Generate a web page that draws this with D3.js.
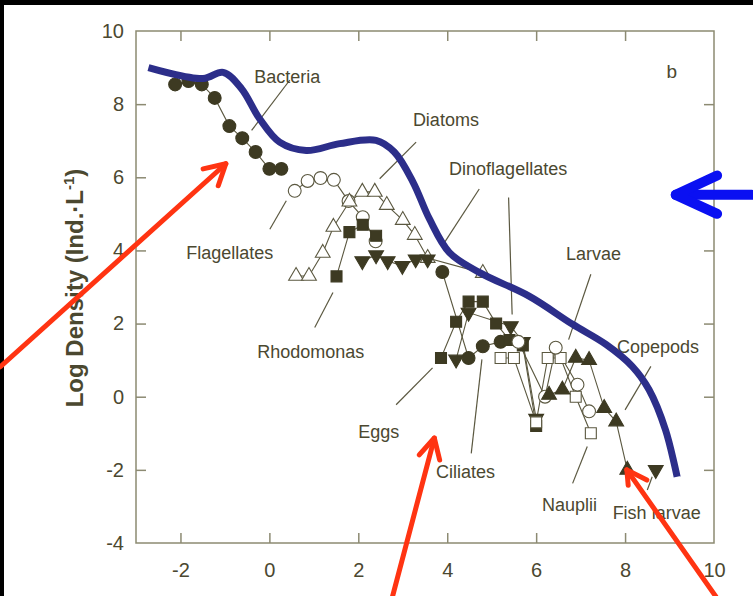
<!DOCTYPE html>
<html>
<head>
<meta charset="utf-8">
<script src="https://cdn.jsdelivr.net/npm/d3@7"></script>
<style>
  html, body { margin: 0; padding: 0; background: #fff; }
  svg { display: block; }
</style>
</head>
<body>
<svg id="chart" width="753" height="596"></svg>
<script>
// Size spectrum: log density against log size class
const xTicks = [-2, 0, 2, 4, 6, 8, 10];
const yTicks = [-4, -2, 0, 2, 4, 6, 8, 10];

// Observed groups, [log size, log density]
const bacteria = [[-2.12,8.54],[-1.82,8.63],[-1.52,8.54],[-1.23,8.17],[-0.90,7.40],[-0.61,7.07],[-0.31,6.69],[0.0,6.23],[0.27,6.23]];
const flagellates = [[0.57,5.63],[0.86,5.90],[1.15,5.98],[1.45,5.93],[1.78,5.35],[2.10,4.91],[2.39,4.25]];
const diatoms = [[0.60,3.30],[0.89,3.30],[1.20,3.93],[1.44,4.64],[1.80,5.33],[2.09,5.60],[2.37,5.60],[2.64,5.24],[3.00,4.83],[3.27,4.42],[3.56,3.79],[4.80,3.38]];
const rhodomonas = [[1.51,3.29],[1.80,4.50],[2.10,4.70],[2.40,4.40]];
const dinoflagellates = [[2.09,3.71],[2.40,3.87],[2.66,3.71],[2.99,3.58],[3.29,3.76],[3.56,3.76]];
const ciliates = [[3.89,3.41],[4.48,1.06],[4.80,1.38],[5.20,1.50]];
const eggs = [[3.86,1.06],[4.20,2.05],[4.48,2.60],[4.80,2.60],[5.10,2.00],[5.40,1.55],[5.70,1.40],[6.00,-0.80]];
const dinoLate = [[4.20,1.02],[4.48,2.30],[5.43,1.93],[5.70,1.50],[6.00,-0.60]];
const larvae = [[5.20,1.06],[5.50,1.06],[6.00,-0.70],[6.26,1.06],[6.55,1.06],[6.89,0.0],[7.23,-1.0]];
const nauplii = [[5.60,1.50],[6.20,0.0],[6.44,1.34],[6.93,0.33],[7.19,-0.40]];
const copepods = [[6.29,0.05],[6.59,0.19],[6.89,1.06],[7.19,1.00],[7.53,-0.31],[7.80,-0.68],[8.05,-2.0]];
const fishLarvae = [[8.69,-2.0]];

// Hand-drawn envelope over the spectrum
const envelope = [[-2.72,9.0],[-1.49,8.70],[-1.04,8.87],[-0.63,8.43],[-0.22,7.60],[0.23,6.96],[0.83,6.73],[1.58,6.92],[2.40,7.01],[2.81,6.69],[3.23,5.87],[3.60,4.86],[4.05,3.94],[4.72,3.40],[5.84,2.75],[6.82,1.98],[7.57,1.43],[8.16,0.83],[8.54,0.19],[8.91,-0.91],[9.17,-2.19]];

// Pointer arrows: shaft then two head strokes
const redArrows = [
  { shaft: [[-6.05,0.82],[-0.98,6.37]], head: [[-1.49,6.23],[-0.98,6.37],[-1.15,5.77]] },
  { shaft: [[2.77,-5.46],[3.71,-1.13]], head: [[3.37,-1.59],[3.71,-1.13],[3.83,-1.73]] },
  { shaft: [[10.04,-5.46],[8.04,-2.0]], head: [[8.07,-2.42],[8.04,-2.0],[8.49,-2.28]] }
];
const blueArrow = { shaft: [[10.85,5.52],[9.14,5.52]], head: [[10.07,6.05],[9.14,5.52],[10.07,5.0]] };

// Group labels with their leader lines
const labelNames = ["Bacteria","Diatoms","Dinoflagellates","Flagellates","Rhodomonas","Larvae","Copepods","Eggs","Ciliates","Nauplii","Fish larvae"];
const labelPos = [[0.40,8.76],[3.97,7.58],[5.37,6.23],[-0.89,3.95],[0.93,1.24],[7.29,3.90],[8.74,1.37],[2.46,-0.96],[4.41,-2.06],[6.75,-2.96],[8.71,-3.18]];
const leaders = [
  [[0.46,8.66],[-0.40,7.28]],
  [[3.30,6.96],[2.48,5.96]],
  [[4.72,5.68],[3.94,4.22]],
  [[5.38,5.45],[5.46,2.25]],
  [[0.38,5.36],[0.01,4.58]],
  [[1.43,2.85],[1.02,1.89]],
  [[7.23,3.35],[6.73,1.56]],
  [[8.58,0.83],[8.00,-0.36]],
  [[3.67,0.79],[2.85,-0.22]],
  [[4.78,1.02],[4.54,-1.55]],
  [[7.15,-1.36],[6.82,-2.37]],
  [[8.61,-2.19],[8.50,-2.55]]
];

const ink = "#3d3a22";
const textInk = "#4b4830";
const frameInk = "#8c8a72";
const fontFamily = "'Liberation Sans', Arial, sans-serif";

const svg = d3.select("#chart");

// page edges
svg.append("rect").attr("x",0).attr("y",0).attr("width",753).attr("height",596).attr("fill","#fff");
svg.append("rect").attr("x",0).attr("y",0).attr("width",753).attr("height",5).attr("fill","#000");
svg.append("rect").attr("x",0).attr("y",0).attr("width",4).attr("height",596).attr("fill","#000");

const x = d3.scaleLinear().domain([-3, 10]).range([136, 714]);
const y = d3.scaleLinear().domain([-4, 10]).range([543, 31]);

// frame
svg.append("rect")
  .attr("x", x(-3)).attr("y", y(10))
  .attr("width", x(10) - x(-3)).attr("height", y(-4) - y(10))
  .attr("fill", "none").attr("stroke", frameInk).attr("stroke-width", 1.5);

const tickLen = 10;
const plain = d => String(d);
const gx = svg.append("g").attr("transform", `translate(0,${y(-4)})`)
  .call(d3.axisBottom(x).tickValues(xTicks).tickSize(-tickLen).tickPadding(20).tickFormat(plain));
const gxTop = svg.append("g").attr("transform", `translate(0,${y(10)})`)
  .call(d3.axisTop(x).tickValues(xTicks.filter(v => v < 10)).tickSize(-tickLen).tickFormat(""));
const gy = svg.append("g").attr("transform", `translate(${x(-3)},0)`)
  .call(d3.axisLeft(y).tickValues(yTicks).tickSize(-tickLen).tickPadding(12).tickFormat(plain));
const gyRight = svg.append("g").attr("transform", `translate(${x(10)},0)`)
  .call(d3.axisRight(y).tickValues(yTicks.filter(v => v > -4 && v < 10)).tickSize(-tickLen).tickFormat(""));

[gx, gxTop, gy, gyRight].forEach(g => {
  g.select(".domain").remove();
  g.selectAll(".tick line").attr("stroke", frameInk).attr("stroke-width", 1.5);
  g.selectAll(".tick text").attr("fill", textInk)
    .style("font-family", fontFamily).style("font-size", "20px");
});
gx.selectAll(".tick line").filter(d => d === 10).remove();
gy.selectAll(".tick line").filter(d => d === -4 || d === 10).remove();

// axis title
svg.append("text")
  .attr("transform", "translate(83,288) rotate(-90)")
  .attr("text-anchor", "middle")
  .attr("fill", textInk)
  .style("font-family", fontFamily)
  .style("font-size", "24px").style("font-weight", "bold")
  .html("Log Density (Ind.·L<tspan dy='-9' font-size='15'>-1</tspan><tspan dy='9'>)</tspan>");

// panel letter
svg.append("text").attr("x", x(9.05)).attr("y", y(8.89)).attr("dy", "0.35em")
  .attr("text-anchor", "middle").attr("fill", textInk)
  .style("font-family", fontFamily).style("font-size", "19px").text("b");

const line = d3.line().x(d => x(d[0])).y(d => y(d[1]));

// leader lines
svg.append("g").selectAll("path").data(leaders).join("path")
  .attr("d", line).attr("fill", "none").attr("stroke", "#5b5840").attr("stroke-width", 1.2);

// labels
svg.append("g").selectAll("text").data(labelNames).join("text")
  .attr("x", (d, i) => x(labelPos[i][0]))
  .attr("y", (d, i) => y(labelPos[i][1]))
  .attr("dy", "0.35em").attr("text-anchor", "middle")
  .attr("fill", textInk)
  .style("font-family", fontFamily).style("font-size", "18px")
  .text(d => d);

// series
const series = [
  { data: bacteria, shape: d3.symbolCircle, filled: true, rot: 0, size: 130 },
  { data: flagellates, shape: d3.symbolCircle, filled: false, rot: 0, size: 130 },
  { data: diatoms, shape: d3.symbolTriangle, filled: false, rot: 0, size: 95 },
  { data: rhodomonas, shape: d3.symbolSquare, filled: true, rot: 0, size: 120 },
  { data: dinoflagellates, shape: d3.symbolTriangle, filled: true, rot: 180, size: 95 },
  { data: ciliates, shape: d3.symbolCircle, filled: true, rot: 0, size: 130 },
  { data: eggs, shape: d3.symbolSquare, filled: true, rot: 0, size: 120 },
  { data: dinoLate, shape: d3.symbolTriangle, filled: true, rot: 180, size: 95 },
  { data: larvae, shape: d3.symbolSquare, filled: false, rot: 0, size: 120 },
  { data: nauplii, shape: d3.symbolCircle, filled: false, rot: 0, size: 130 },
  { data: copepods, shape: d3.symbolTriangle, filled: true, rot: 0, size: 95 },
  { data: fishLarvae, shape: d3.symbolTriangle, filled: true, rot: 180, size: 95 }
];

const gLines = svg.append("g");
const gMarks = svg.append("g");
series.forEach(s => {
  if (s.data.length > 1) {
    gLines.append("path").attr("d", line(s.data)).attr("fill", "none")
      .attr("stroke", "#5b5840").attr("stroke-width", 1.1);
  }
});
series.forEach(s => {
  gMarks.selectAll(null).data(s.data).join("path")
    .attr("transform", d => `translate(${x(d[0])},${y(d[1])}) rotate(${s.rot})`)
    .attr("d", d3.symbol().type(s.shape).size(s.size))
    .attr("fill", s.filled ? ink : "#fff")
    .attr("stroke", s.filled ? ink : "#5b5840")
    .attr("stroke-width", 1.1);
});

// envelope curve
svg.append("path")
  .attr("d", d3.line().x(d => x(d[0])).y(d => y(d[1])).curve(d3.curveCatmullRom.alpha(0.5))(envelope))
  .attr("fill", "none").attr("stroke", "#2c2e8a").attr("stroke-width", 7);

// arrows
redArrows.forEach(a => {
  const g = svg.append("g").attr("fill", "none").attr("stroke", "#ff3412")
    .attr("stroke-width", 5).attr("stroke-linecap", "round").attr("stroke-linejoin", "round");
  g.append("path").attr("d", line(a.shaft));
  g.append("path").attr("d", line(a.head));
});
{
  const g = svg.append("g").attr("fill", "none").attr("stroke", "#0a10f2")
    .attr("stroke-width", 10).attr("stroke-linecap", "round").attr("stroke-linejoin", "round");
  g.append("path").attr("d", line(blueArrow.shaft));
  g.append("path").attr("d", line(blueArrow.head));
}
</script>
</body>
</html>
